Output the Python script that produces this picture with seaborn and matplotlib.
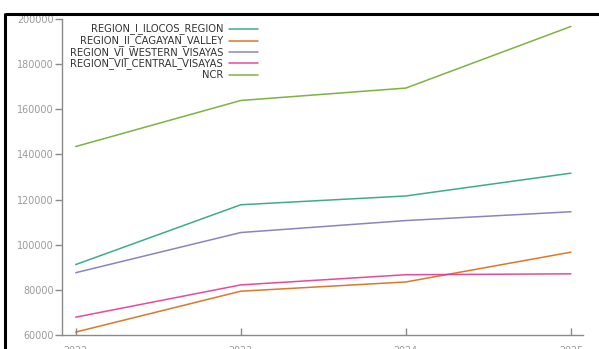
import matplotlib
matplotlib.use("Agg")
import matplotlib.pyplot as plt
from matplotlib.lines import Line2D
import pandas as pd
import seaborn as sns

years = [2022, 2023, 2024, 2025]
region_names = [
    "REGION_I_ILOCOS_REGION",
    "REGION_II_CAGAYAN_VALLEY",
    "REGION_VI_WESTERN_VISAYAS",
    "REGION_VII_CENTRAL_VISAYAS",
    "NCR",
]
ilocos = [91200, 117700, 121600, 131700]
cagayan = [61300, 79400, 83500, 96700]
western_visayas = [87600, 105400, 110700, 114600]
central_visayas = [67900, 82200, 86700, 87100]
ncr = [143500, 163900, 169400, 196700]
y_ticks = [60000, 80000, 100000, 120000, 140000, 160000, 180000, 200000]

series = [ilocos, cagayan, western_visayas, central_visayas, ncr]
df = pd.DataFrame(
    [(y, name, v) for name, vals in zip(region_names, series) for y, v in zip(years, vals)],
    columns=["year", "region", "value"],
)

colors = ["#1b9e77", "#d95f02", "#7570b3", "#e7298a", "#66a61e"]
palette = dict(zip(region_names, colors))

sns.set_style("white")
plt.rcParams["font.family"] = ["DejaVu Sans"]

W, H = 599, 349
fig = plt.figure(figsize=(W / 100, H / 100), dpi=100)
ax = fig.add_axes([62 / W, (H - 335) / H, (583 - 62) / W, (335 - 19) / H])

sns.lineplot(data=df, x="year", y="value", hue="region", palette=palette,
             hue_order=region_names, linewidth=1.1, alpha=0.85, legend=False, ax=ax)

ax.set_xlim(2021.917, 2025.073)
ax.set_ylim(60000, 200000)
ax.set_xticks(years)
ax.set_xticklabels([str(y) for y in years])
ax.set_yticks(y_ticks)
ax.set_yticklabels([str(t) for t in y_ticks])
ax.set_xlabel("")
ax.set_ylabel("")

for side in ["top", "right"]:
    ax.spines[side].set_visible(False)
for side in ["left", "bottom"]:
    ax.spines[side].set_color("#8a8a8a")
    ax.spines[side].set_linewidth(1.0)

ax.tick_params(axis="y", direction="out", length=5, width=1, color="#8a8a8a",
               labelsize=6.9, labelcolor="#9a9a9a", pad=1, left=True)
ax.tick_params(axis="x", direction="in", length=5, width=1, color="#8a8a8a",
               labelsize=6.9, labelcolor="#9a9a9a", pad=8, bottom=True)

# legend: right-aligned names with line samples to their right
def fx(x):
    return x / W

def fy(y):
    return 1 - y / H

rows_y = [29, 40.7, 52.3, 63.3, 74.7]
for name, yy in zip(region_names, rows_y):
    fig.text(fx(223), fy(yy), name, ha="right", va="center", fontsize=7.2, color="#333333")
    fig.add_artist(Line2D([fx(229), fx(258)], [fy(yy), fy(yy)], color=palette[name],
                          linewidth=1.1, alpha=0.85, transform=fig.transFigure))

# outer frame edges
fig.add_artist(Line2D([fx(4.5), 1.0], [fy(14), fy(14)], color="black", linewidth=2.2,
                      transform=fig.transFigure, solid_capstyle="butt"))
fig.add_artist(Line2D([fx(4.5), fx(4.5)], [fy(13), 0.0], color="black", linewidth=2.2,
                      transform=fig.transFigure, solid_capstyle="butt"))

fig.savefig("out.png", dpi=100)
